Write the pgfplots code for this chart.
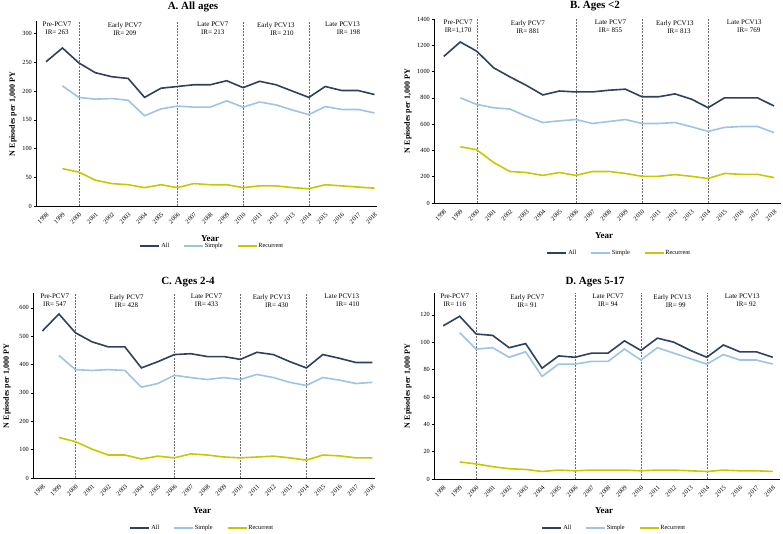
\documentclass[border=0pt]{standalone}
\usepackage{fontspec}
\setmainfont{Liberation Serif}
\usepackage{pgfplots}
\usepackage{pgfplotstable}
\pgfplotsset{compat=1.18}
\definecolor{allc}{RGB}{46,64,94}
\definecolor{simc}{RGB}{157,195,230}
\definecolor{recc}{RGB}{200,200,0}
\definecolor{vgray}{RGB}{110,110,110}

\pgfplotstableread{
year all simple rec
1998 251 nan nan
1999 275 209 65
2000 249 189 59
2001 232 186 45
2002 225 187 39
2003 222 184 37
2004 189 157 32
2005 205 169 37
2006 208 174 32
2007 211 172 39
2008 211 172 37
2009 218 183 37
2010 206 172 32
2011 217 181 35
2012 211 176 35
2013 200 167 32
2014 189 159 30
2015 208 173 37
2016 201 168 35
2017 201 168 33
2018 194 162 31
}\dataA

\pgfplotstableread{
year all simple rec
1998 1115 nan nan
1999 1225 800 428
2000 1155 750 405
2001 1030 725 310
2002 960 715 240
2003 895 660 232
2004 822 612 210
2005 852 625 232
2006 845 635 210
2007 845 605 240
2008 858 620 240
2009 866 635 225
2010 808 605 203
2011 808 605 203
2012 830 612 216
2013 790 580 203
2014 725 545 186
2015 800 575 225
2016 800 582 218
2017 800 582 218
2018 738 535 193
}\dataB

\pgfplotstableread{
year all simple rec
1998 518 nan nan
1999 578 432 143
2000 512 382 128
2001 480 379 102
2002 462 382 81
2003 462 379 81
2004 388 320 67
2005 410 333 77
2006 435 362 71
2007 438 354 85
2008 428 347 81
2009 428 354 74
2010 418 347 71
2011 443 365 74
2012 435 354 77
2013 410 337 71
2014 388 326 63
2015 435 354 81
2016 422 345 78
2017 407 333 71
2018 407 337 71
}\dataC

\pgfplotstableread{
year all simple rec
1998 112 nan nan
1999 119 107 12.5
2000 106 95 11
2001 105 96 9
2002 96 89 7.5
2003 99 93 7
2004 81 75 5.5
2005 90 84 6.5
2006 89 84 6
2007 92 86 6.5
2008 92 86 6.5
2009 101 95 6.5
2010 94 87 6
2011 103 96 6.5
2012 100 92 6.5
2013 94 88 6
2014 89 84 5.5
2015 98 91 6.5
2016 93 87 6
2017 93 87 6
2018 89 84 5.5
}\dataD

\newcommand{\tickfont}{\fontsize{6.3}{7}\selectfont}
\newcommand{\regfont}{\fontsize{7}{8}\selectfont}

\pgfplotsset{
  panel/.style={
    scale only axis, anchor=south west,
    axis x line*=bottom, axis y line*=left,
    axis line style={black, line width=0.7pt, -},
    xtick={1998,...,2018},
    x tick label style={rotate=45, anchor=north east, font=\tickfont, inner sep=2.5pt},
    y tick label style={font=\tickfont, inner sep=1.5pt},
    /pgf/number format/1000 sep={},
    /pgf/number format/assume math mode=true,
    xtick style={draw=none},
    ytick style={black, line width=0.5pt},
    major tick length=2.5pt, tick align=outside,
    ymin=0,
    clip=false,
    legend style={draw=none, fill=none, font=\tickfont, legend columns=3,
      anchor=center, inner sep=0pt,
      /tikz/every even column/.append style={column sep=13pt},
      nodes={inner sep=1pt}},
    legend cell align=left,
    legend image code/.code={\draw[##1, line width=1.6pt] (0pt,0pt) -- (19pt,0pt);},
  },
  vline/.style={forget plot, vgray, line width=0.5pt, dash pattern=on 2pt off 1.2pt},
  dline/.style={line width=1.6pt},
}

\begin{document}
\begin{tikzpicture}
\useasboundingbox (0pt,0pt) rectangle (783pt,534pt);

% ---------- Panel A ----------
\begin{axis}[panel, at={(36pt,328pt)}, width=341pt, height=185pt,
  xmin=1997.39, xmax=2018.15, ymax=322, ytick={0,50,...,300},
  legend style={at={(0.516,-0.216)}}]
\addplot[vline] coordinates {(2000,0) (2000,322)};
\addplot[vline] coordinates {(2006,0) (2006,322)};
\addplot[vline] coordinates {(2010,0) (2010,322)};
\addplot[vline] coordinates {(2014,0) (2014,322)};
\addplot[dline, allc] table[x=year, y=all] {\dataA};
\addplot[dline, simc] table[x=year, y=simple] {\dataA};
\addplot[dline, recc] table[x=year, y=rec] {\dataA};
\legend{All, Simple, Recurrent}
\node[anchor=north, align=center, font=\regfont, inner sep=1pt] at (axis cs:1998.67,322) {Pre-PCV7\\IR= 263};
\node[anchor=north, align=center, font=\regfont, inner sep=1pt] at (axis cs:2002.8,322) {Early PCV7\\IR= 209};
\node[anchor=north, align=center, font=\regfont, inner sep=1pt] at (axis cs:2008.15,322) {Late PCV7\\IR= 213};
\node[anchor=north, align=center, font=\regfont, inner sep=1pt] at (axis cs:2012.0,322) {Early PCV13\\\hspace*{12pt}IR= 210};
\node[anchor=north, align=center, font=\regfont, inner sep=1pt] at (axis cs:2016.05,322) {Late PCV13\\\hspace*{12pt}IR= 198};
\end{axis}

% ---------- Panel B ----------
\begin{axis}[panel, at={(434pt,331pt)}, width=347pt, height=184pt,
  xmin=1997.41, xmax=2018.42, ymax=1400, ytick={0,200,...,1400},
  legend style={at={(0.533,-0.272)}}]
\addplot[vline] coordinates {(2000,0) (2000,1400)};
\addplot[vline] coordinates {(2006,0) (2006,1400)};
\addplot[vline] coordinates {(2010,0) (2010,1400)};
\addplot[vline] coordinates {(2014,0) (2014,1400)};
\addplot[dline, allc] table[x=year, y=all] {\dataB};
\addplot[dline, simc] table[x=year, y=simple] {\dataB};
\addplot[dline, recc] table[x=year, y=rec] {\dataB};
\legend{All, Simple, Recurrent}
\node[anchor=north, align=center, font=\regfont, inner sep=1pt] at (axis cs:1998.87,1400) {Pre-PCV7\\IR=1,170};
\node[anchor=north, align=center, font=\regfont, inner sep=1pt] at (axis cs:2003.1,1400) {Early PCV7\\IR= 881};
\node[anchor=north, align=center, font=\regfont, inner sep=1pt] at (axis cs:2008.1,1400) {Late PCV7\\IR= 855};
\node[anchor=north, align=center, font=\regfont, inner sep=1pt] at (axis cs:2012.0,1400) {Early PCV13\\\hspace*{8pt}IR= 813};
\node[anchor=north, align=center, font=\regfont, inner sep=1pt] at (axis cs:2016.2,1400) {Late PCV13\\\hspace*{9pt}IR= 769};
\end{axis}

% ---------- Panel C ----------
\begin{axis}[panel, at={(33pt,56pt)}, width=342pt, height=185pt,
  xmin=1997.43, xmax=2018.16, ymax=652, ytick={0,100,...,600},
  legend style={at={(0.494,-0.27)}}]
\addplot[vline] coordinates {(2000,0) (2000,652)};
\addplot[vline] coordinates {(2006,0) (2006,652)};
\addplot[vline] coordinates {(2010,0) (2010,652)};
\addplot[vline] coordinates {(2014,0) (2014,652)};
\addplot[dline, allc] table[x=year, y=all] {\dataC};
\addplot[dline, simc] table[x=year, y=simple] {\dataC};
\addplot[dline, recc] table[x=year, y=rec] {\dataC};
\legend{All, Simple, Recurrent}
\node[anchor=north, align=center, font=\regfont, inner sep=1pt] at (axis cs:1998.75,652) {Pre-PCV7\\IR= 547};
\node[anchor=north, align=center, font=\regfont, inner sep=1pt] at (axis cs:2003.1,652) {Early PCV7\\IR= 428};
\node[anchor=north, align=center, font=\regfont, inner sep=1pt] at (axis cs:2007.95,652) {Late PCV7\\IR= 433};
\node[anchor=north, align=center, font=\regfont, inner sep=1pt] at (axis cs:2011.9,652) {Early PCV13\\\hspace*{10pt}IR= 430};
\node[anchor=north, align=center, font=\regfont, inner sep=1pt] at (axis cs:2016.15,652) {Late PCV13\\\hspace*{12pt}IR= 410};
\end{axis}

% ---------- Panel D ----------
\begin{axis}[panel, at={(434pt,55pt)}, width=346pt, height=186pt,
  xmin=1997.44, xmax=2018.44, ymax=136, ytick={0,20,...,120},
  legend style={at={(0.52,-0.263)}}]
\addplot[vline] coordinates {(2000,0) (2000,136)};
\addplot[vline] coordinates {(2006,0) (2006,136)};
\addplot[vline] coordinates {(2010,0) (2010,136)};
\addplot[vline] coordinates {(2014,0) (2014,136)};
\addplot[dline, allc] table[x=year, y=all] {\dataD};
\addplot[dline, simc] table[x=year, y=simple] {\dataD};
\addplot[dline, recc] table[x=year, y=rec] {\dataD};
\legend{All, Simple, Recurrent}
\node[anchor=north, align=center, font=\regfont, inner sep=1pt] at (axis cs:1998.7,136) {Pre-PCV7\\IR= 116};
\node[anchor=north, align=center, font=\regfont, inner sep=1pt] at (axis cs:2003.1,136) {Early PCV7\\IR= 91};
\node[anchor=north, align=center, font=\regfont, inner sep=1pt] at (axis cs:2008.0,136) {Late PCV7\\IR= 94};
\node[anchor=north, align=center, font=\regfont, inner sep=1pt] at (axis cs:2011.9,136) {Early PCV13\\\hspace*{7pt}IR= 99};
\node[anchor=north, align=center, font=\regfont, inner sep=1pt] at (axis cs:2016.15,136) {Late PCV13\\\hspace*{8pt}IR= 92};
\end{axis}

% ---------- titles and axis labels ----------
\begin{scope}[every node/.style={inner sep=0pt}]
\node[font=\fontsize{11}{13}\selectfont\bfseries] at (193pt,527pt) {A. All ages};
\node[font=\fontsize{11}{13}\selectfont\bfseries] at (595pt,528pt) {B. Ages <2};
\node[font=\fontsize{11}{13}\selectfont\bfseries] at (188pt,252pt) {C. Ages 2-4};
\node[font=\fontsize{11}{13}\selectfont\bfseries] at (595pt,252pt) {D. Ages 5-17};

\node[font=\fontsize{9}{10}\selectfont\bfseries] at (210pt,295pt) {Year};
\node[font=\fontsize{9}{10}\selectfont\bfseries] at (604pt,298pt) {Year};
\node[font=\fontsize{9}{10}\selectfont\bfseries] at (202pt,23pt) {Year};
\node[font=\fontsize{9}{10}\selectfont\bfseries] at (604pt,23pt) {Year};

\node[font=\fontsize{8}{9}\selectfont\bfseries, rotate=90] at (13pt,420pt) {N Episodes per 1,000 PY};
\node[font=\fontsize{8}{9}\selectfont\bfseries, rotate=90] at (408pt,423pt) {N Episodes per 1,000 PY};
\node[font=\fontsize{8}{9}\selectfont\bfseries, rotate=90] at (7pt,148pt) {N Episodes per 1,000 PY};
\node[font=\fontsize{8}{9}\selectfont\bfseries, rotate=90] at (408pt,148pt) {N Episodes per 1,000 PY};
\end{scope}
\end{tikzpicture}
\end{document}
